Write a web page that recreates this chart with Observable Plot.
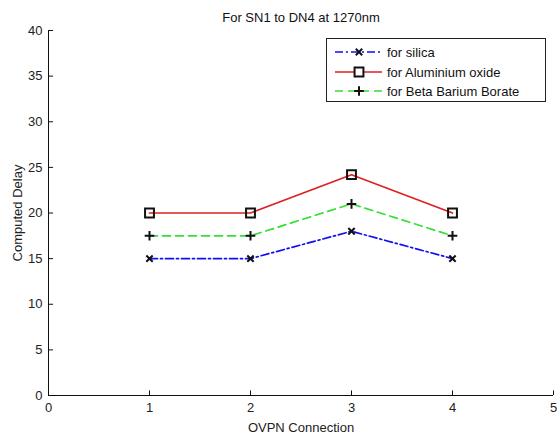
<!DOCTYPE html>
<html><head><meta charset="utf-8">
<script src="https://cdn.jsdelivr.net/npm/d3@7"></script>
<script src="https://cdn.jsdelivr.net/npm/@observablehq/plot@0.6"></script>
<style>
body{margin:0;background:#fff;}
#wrap{position:relative;width:557px;height:439px;font-family:"Liberation Sans",Arial,sans-serif;background:#fff;}
#legend{position:absolute;left:326px;top:38px;width:218px;height:62px;border:1px solid #222;background:#fff;font-size:13px;color:#111;}
.row{position:absolute;left:0;height:18px;display:flex;align-items:center;}
.row svg{display:block;margin-left:7px;}
.row span{margin-left:4px;}
</style></head>
<body><div id="wrap"></div>
<script>
const connections = [1, 2, 3, 4];
const silica = [15, 15, 18, 15];
const aluminium = [20, 20, 24.2, 20];
const bbb = [17.5, 17.5, 21, 17.5];
const seriesNames = ["for silica", "for Aluminium oxide", "for Beta Barium Borate"];
const xTicks = [0, 1, 2, 3, 4, 5];
const yTicks = [0, 5, 10, 15, 20, 25, 30, 35, 40];
const titleText = "For SN1 to DN4 at 1270nm";

const colors = ["#1010f0", "#e02020", "#33e033"];
const dashes = ["8,3,2,3", null, "8,5"];
const symbols = ["times", "square", "plus"];
const rs = [3, 5, 3.2];
const values = [silica, aluminium, bbb];

const data = [];
values.forEach((vals, si) => vals.forEach((v, i) => data.push({series: seriesNames[si], si, x: connections[i], y: v})));

const marks = [];
values.forEach((vals, si) => {
  const d = data.filter(p => p.si === si);
  marks.push(Plot.line(d, {x: "x", y: "y", stroke: colors[si], strokeWidth: 1.7, strokeDasharray: dashes[si]}));
});
values.forEach((vals, si) => {
  const d = data.filter(p => p.si === si);
  marks.push(Plot.dot(d, {x: "x", y: "y", symbol: () => symbols[si], r: rs[si], stroke: "#111", strokeWidth: 2, fill: "none"}));
});

const chart = Plot.plot({
  width: 557, height: 439,
  marginLeft: 48, marginRight: 4, marginTop: 30, marginBottom: 44,
  style: {fontFamily: '"Liberation Sans", Arial, sans-serif', fontSize: "12px", background: "#fff", color: "#222"},
  x: {domain: [0, 5]},
  y: {domain: [0, 40]},
  marks: [
    Plot.axisX(xTicks, {tickSize: 0, tickPadding: 7, fontSize: 13, label: "OVPN Connection", labelAnchor: "center", labelOffset: 36, labelArrow: "none"}),
    Plot.axisY(yTicks, {tickSize: 0, tickPadding: 6, fontSize: 13, label: "Computed Delay", labelAnchor: "center", labelOffset: 36, labelArrow: "none"}),
    Plot.ruleY([0], {stroke: "#111"}),
    Plot.ruleX([0], {stroke: "#111"}),
    Plot.ruleX(xTicks, {x: d => d, y1: 0, y2: 0.5, stroke: "#111"}),
    Plot.ruleY(yTicks, {y: d => d, x1: 0, x2: 0.05, stroke: "#111"}),
    ...marks,
    Plot.text([titleText], {text: d => d, frameAnchor: "top", dy: -18, fontSize: 13, fill: "#111"})
  ]
});
const wrap = document.getElementById("wrap");
wrap.appendChild(chart);

const legend = document.createElement("div");
legend.id = "legend";
const tops = [4, 24, 43];
seriesNames.forEach((name, si) => {
  const row = document.createElement("div");
  row.className = "row";
  row.style.top = tops[si] + "px";
  const s = d3.create("svg").attr("width", 49).attr("height", 14);
  s.append("line").attr("x1", 1).attr("x2", 48).attr("y1", 7).attr("y2", 7)
    .attr("stroke", colors[si]).attr("stroke-width", 1.7).attr("stroke-dasharray", dashes[si]);
  const sym = d3.symbol().type(si === 0 ? d3.symbolTimes : si === 1 ? d3.symbolSquare : d3.symbolPlus).size(Math.PI * rs[si] * rs[si]);
  s.append("path").attr("d", sym()).attr("transform", "translate(25,7)")
    .attr("fill", si === 1 ? "#fff" : "none").attr("stroke", "#111").attr("stroke-width", 2);
  row.appendChild(s.node());
  const t = document.createElement("span");
  t.textContent = name;
  row.appendChild(t);
  legend.appendChild(row);
});
wrap.appendChild(legend);
</script></body></html>
